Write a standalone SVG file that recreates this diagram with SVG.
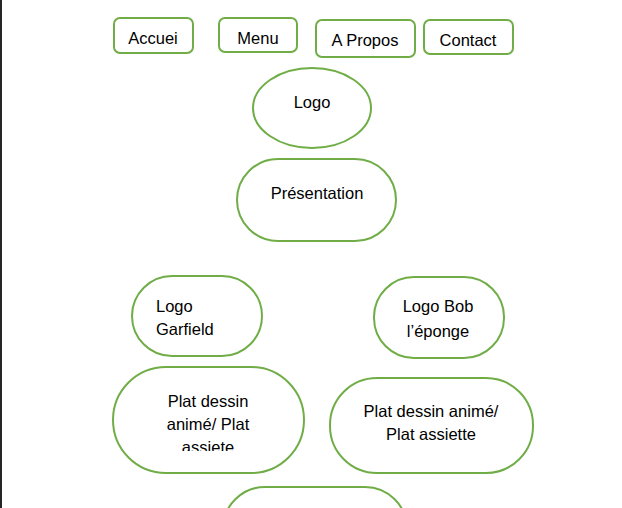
<svg xmlns="http://www.w3.org/2000/svg" width="622" height="508" viewBox="0 0 622 508">
<defs>
<style>
.n{fill:#fff;stroke:#70AD47;stroke-width:2}
.t{font-family:"Liberation Sans",Arial,sans-serif;font-size:16.5px;fill:#000}
.c{text-anchor:middle}
</style>
<clipPath id="clipPlat"><rect x="113" y="367" width="191" height="84"/></clipPath>
</defs>
<rect x="0" y="0" width="622" height="508" fill="#fff"/>
<rect x="0" y="0" width="2" height="508" fill="#262626"/>
<g id="connectors"></g>
<g id="accueil"><rect class="n" x="114" y="18" width="79" height="35" rx="6"/><text class="t c" x="153" y="44">Accuei</text></g>
<g id="menu"><rect class="n" x="219" y="18" width="78" height="34" rx="6"/><text class="t c" x="258" y="44">Menu</text></g>
<g id="apropos"><rect class="n" x="316" y="20" width="99" height="37" rx="6"/><text class="t c" x="365" y="46">A Propos</text></g>
<g id="contact"><rect class="n" x="424" y="20" width="89" height="34" rx="6"/><text class="t c" x="468" y="46">Contact</text></g>
<g id="logo"><ellipse class="n" cx="312" cy="108" rx="59" ry="40"/><text class="t c" x="312" y="108">Logo</text></g>
<g id="presentation"><rect class="n" x="237" y="159" width="159" height="82" rx="41"/><text class="t c" x="317" y="199">Présentation</text></g>
<g id="logoGarfield"><rect class="n" x="132" y="276" width="130" height="80" rx="40"/><text class="t" x="156" y="312">Logo</text><text class="t" x="156" y="335">Garfield</text></g>
<g id="logoBob"><rect class="n" x="374" y="277" width="130" height="81" rx="40"/><text class="t c" x="438" y="312">Logo Bob</text><text class="t c" x="438" y="337">l’éponge</text></g>
<g id="platGauche"><rect class="n" x="113" y="367" width="191" height="106" rx="53"/><text class="t c" x="208" y="407">Plat dessin</text><text class="t c" x="208" y="430">animé/ Plat</text><text class="t c" x="208" y="453" clip-path="url(#clipPlat)">assiete</text></g>
<g id="platDroite"><rect class="n" x="330" y="378" width="203" height="95" rx="47"/><text class="t c" x="431" y="417">Plat dessin animé/</text><text class="t c" x="431" y="440">Plat assiette</text></g>
<g id="bas"><rect class="n" x="223" y="487" width="184" height="100" rx="42"/></g>
</svg>
